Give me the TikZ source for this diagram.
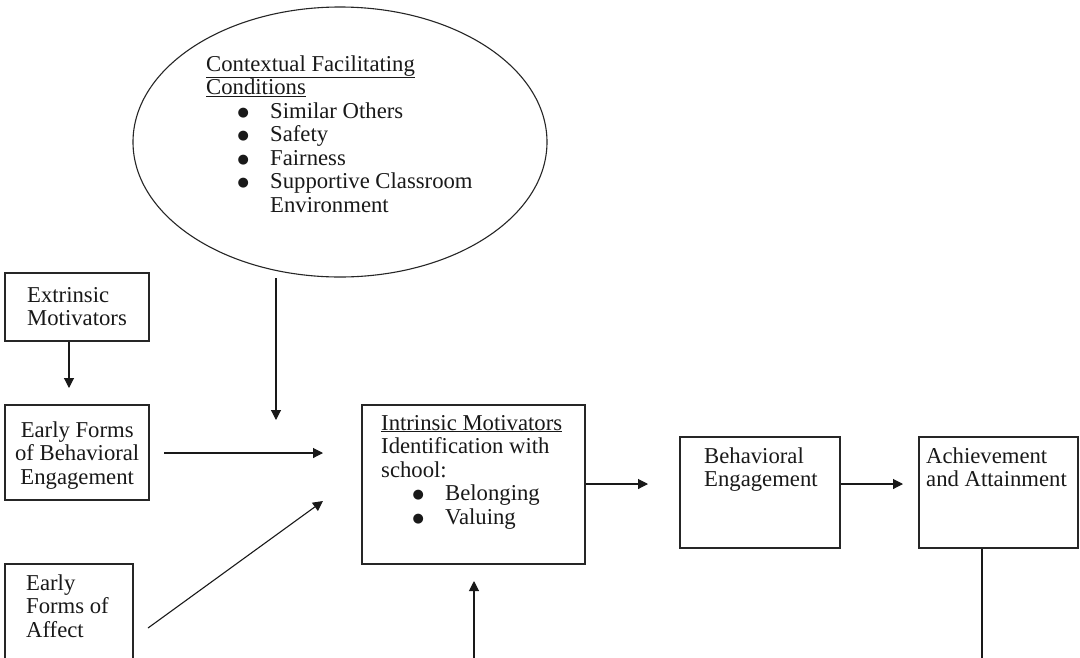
\documentclass[tikz,border=0pt]{standalone}
\usepackage{fontspec}
\setmainfont{Liberation Serif}
\newfontfamily\bulfont{DejaVu Sans}
\usetikzlibrary{arrows.meta,shapes.geometric}
\newcommand\bigbul{\makebox[8pt]{\raisebox{2pt}{\bulfont\fontsize{13pt}{13pt}\selectfont ●}}}
\newcommand\bitem[1]{\hspace*{33pt}\makebox[31pt][l]{\bigbul}#1}
\newcommand\bcont[1]{\hspace*{64pt}#1}
\begin{document}
\begin{tikzpicture}[x=1pt,y=-1pt,
  font=\fontsize{22.7pt}{23.5pt}\selectfont,
  box/.style={draw=black!85,line width=1.1pt,rectangle,inner sep=0pt},
  oval/.style={draw=black!85,line width=1.1pt,ellipse,inner sep=0pt},
  txt/.style={anchor=base west,inner sep=0pt,text=black!90},
  arr/.style={draw=black!90,line width=1.1pt,-{Triangle[length=10pt,width=10pt]}},
  ln/.style={draw=black!90,line width=1.1pt}]
\useasboundingbox (0,0) rectangle (1080,657);
\clip (0,0) rectangle (1080,657);
\fill[white] (0,0) rectangle (1080,657);

% shapes
\node[oval,minimum width=414pt,minimum height=270pt] (ctx) at (340,142) {};
\node[box,minimum width=144pt,minimum height=68pt] (ext) at (77,307) {};
\node[box,minimum width=144pt,minimum height=95pt] (efbe) at (77,452.5) {};
\node[box,minimum width=128pt,minimum height=140pt] (efa) at (69,634) {};
\node[box,minimum width=223pt,minimum height=159pt] (intr) at (473.5,484.5) {};
\node[box,minimum width=160pt,minimum height=111pt] (beh) at (760,492.5) {};
\node[box,minimum width=159pt,minimum height=111pt] (ach) at (998.5,492.5) {};

% texts
\node[txt] (ctxt) at (206,71) {\parbox[t]{300pt}{\raggedright
  \underline{Contextual Facilitating}\\
  \underline{Conditions}\\
  \bitem{Similar Others}\\
  \bitem{Safety}\\
  \bitem{Fairness}\\
  \bitem{Supportive Classroom}\\
  \bcont{Environment}}};
\node[txt] (extt) at (27,302) {\parbox[t]{130pt}{\raggedright Extrinsic\\Motivators}};
\node[txt] (efbet) at (5,437) {\parbox[t]{144pt}{\centering Early Forms\\of Behavioral\\Engagement}};
\node[txt] (efat) at (26,590) {\parbox[t]{110pt}{\raggedright Early\\Forms of\\Affect}};
\node[txt] (intrt) at (381,430) {\parbox[t]{210pt}{\raggedright
  \underline{Intrinsic Motivators}\\
  Identification with\\
  school:\\
  \bitem{Belonging}\\
  \bitem{Valuing}}};
\node[txt] (beht) at (704,463) {\parbox[t]{140pt}{\raggedright Behavioral\\Engagement}};
\node[txt] (acht) at (926,463) {\parbox[t]{150pt}{\raggedright Achievement\\and Attainment}};

% connector end points
\coordinate (a1) at (69,388);
\coordinate (b0) at (164,453);
\coordinate (b1) at (323,453);
\coordinate (c0) at (276,278);
\coordinate (c1) at (276,420);
\coordinate (d0) at (148,628);
\coordinate (d1) at (323,501);
\coordinate (e1) at (648,484);
\coordinate (f1) at (903,484);
\coordinate (g0) at (474,670);
\coordinate (g1) at (474,581);
\coordinate (h1) at (982,670);

% connectors
\draw[arr] (a1 |- ext.south) -- (a1);
\draw[arr] (b0) -- (b1);
\draw[arr] (c0) -- (c1);
\draw[arr] (d0) -- (d1);
\draw[arr] (intr.east |- e1) -- (e1);
\draw[arr] (beh.east |- f1) -- (f1);
\draw[arr] (g0) -- (g1);
\draw[ln] (h1 |- ach.south) -- (h1);
\end{tikzpicture}
\end{document}
